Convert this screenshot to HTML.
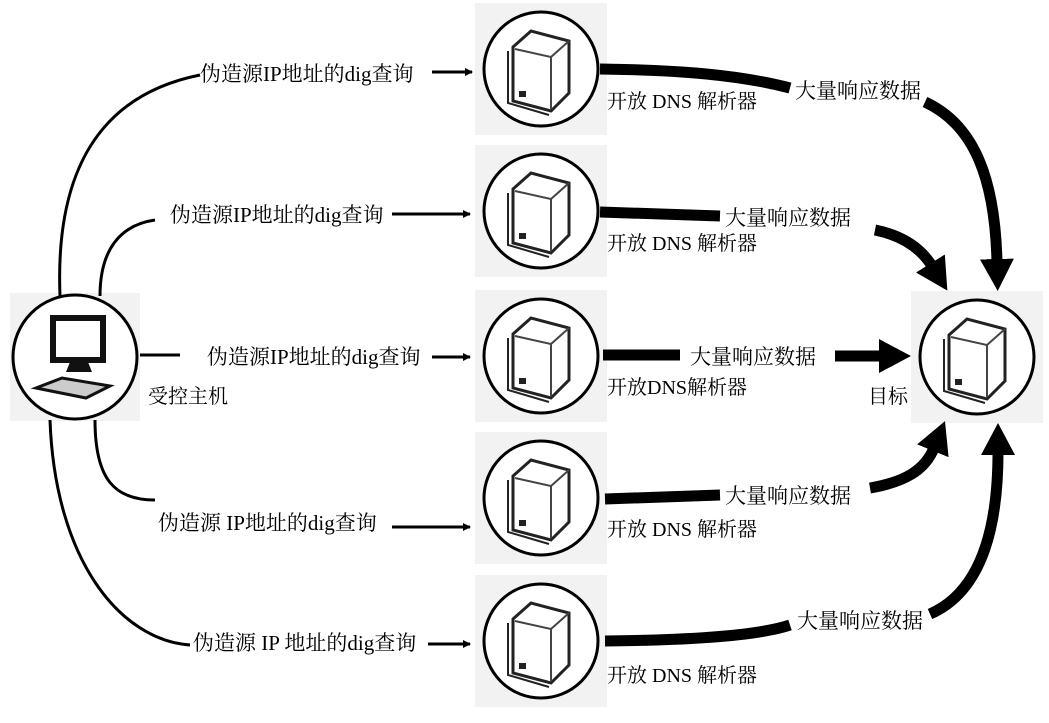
<!DOCTYPE html><html><head><meta charset="utf-8"><style>
body{margin:0;background:#fff}
svg text{font-family:"Liberation Serif","Noto Serif CJK SC",serif;font-size:20px;fill:#000}
.l{font-size:21px}
</style></head><body>
<svg width="1049" height="718" viewBox="0 0 1049 718" xmlns="http://www.w3.org/2000/svg">
<defs>
<marker id="a" markerWidth="8" markerHeight="8" refX="7" refY="4" orient="auto" markerUnits="userSpaceOnUse"><path d="M0,0L8,4L0,8z"/></marker>
<marker id="b" markerWidth="32" markerHeight="34" refX="3" refY="17" orient="auto" markerUnits="userSpaceOnUse"><path d="M0,0L32,17L0,34z"/></marker>
<g id="srv">
<rect x="-66" y="-66" width="132" height="132" fill="#f2f2f2"/>
<circle r="57" fill="#fff" stroke="#000" stroke-width="3"/>
<path d="M-28,-22 L-10,-38 L28,-28 L28,24 L10,42 L-28,32 Z" fill="#fff" stroke="#222" stroke-width="3"/>
<path d="M-26,-20 L10,-12 L10,40 M10,-12 L28,-28" fill="none" stroke="#444" stroke-width="2"/>
<path d="M-33,-18 L-33,34 L8,46" fill="none" stroke="#222" stroke-width="2"/>
<rect x="-22" y="22" width="7" height="6" fill="#222"/>
</g>
</defs>
<rect x="10" y="293" width="130" height="128" fill="#f2f2f2"/>
<circle cx="75" cy="357" r="62" fill="#fff" stroke="#000" stroke-width="3"/>
<rect x="53" y="318" width="50" height="42" fill="#fff" stroke="#111" stroke-width="6"/>
<path d="M70,362 L88,362 L92,372 L66,372 Z" fill="#111"/>
<path d="M36,388 L62,378 L110,386 L86,398 Z" fill="#ccc" stroke="#111" stroke-width="3"/>
<use href="#srv" x="541" y="69"/><use href="#srv" x="541" y="211"/><use href="#srv" x="541" y="356"/><use href="#srv" x="541" y="498"/><use href="#srv" x="541" y="641"/>
<use href="#srv" x="977" y="357"/>
<g fill="none" stroke="#000" stroke-width="3">
<path d="M60,296 C55,170 100,95 200,75"/>
<path d="M100,296 C100,250 120,225 155,220"/>
<path d="M140,355 L180,355"/>
<path d="M95,420 C95,480 115,500 155,500"/>
<path d="M50,420 C55,560 120,640 190,645"/>
<path d="M432,72 L472,72" marker-end="url(#a)"/>
<path d="M392,214 L470,214" marker-end="url(#a)"/>
<path d="M432,357 L470,357" marker-end="url(#a)"/>
<path d="M392,527 L470,527" marker-end="url(#a)"/>
<path d="M428,644 L470,644" marker-end="url(#a)"/>
</g>
<g fill="none" stroke="#000" stroke-width="11">
<path d="M600,69 C680,70 740,75 790,88"/>
<path d="M600,212 L720,216"/>
<path d="M603,355 L680,355"/>
<path d="M605,499 L720,495"/>
<path d="M605,641 C700,640 760,635 790,625"/>
<path d="M925,102 C975,125 995,180 997,262" marker-end="url(#b)"/>
<path d="M875,230 C905,236 922,250 932,266" marker-end="url(#b)"/>
<path d="M835,356 L882,356" marker-end="url(#b)"/>
<path d="M870,488 C905,482 925,470 934,448" marker-end="url(#b)"/>
<path d="M930,614 C985,590 998,520 998,452" marker-end="url(#b)"/>
</g>
<text class="l" x="200" y="81">伪造源IP地址的dig查询</text>
<text class="l" x="170" y="222">伪造源IP地址的dig查询</text>
<text class="l" x="207" y="364">伪造源IP地址的dig查询</text>
<text class="l" x="158" y="530">伪造源 IP地址的dig查询</text>
<text class="l" x="193" y="650">伪造源 IP 地址的dig查询</text>
<text x="607" y="108">开放 DNS 解析器</text>
<text x="607" y="250">开放 DNS 解析器</text>
<text x="607" y="394">开放DNS解析器</text>
<text x="607" y="536">开放 DNS 解析器</text>
<text x="607" y="682">开放 DNS 解析器</text>
<text class="l" x="795" y="98">大量响应数据</text>
<text class="l" x="725" y="225">大量响应数据</text>
<text class="l" x="690" y="364">大量响应数据</text>
<text class="l" x="725" y="503">大量响应数据</text>
<text class="l" x="797" y="628">大量响应数据</text>
<text x="868" y="403">目标</text>
<text x="148" y="403">受控主机</text>
</svg>
</body></html>
